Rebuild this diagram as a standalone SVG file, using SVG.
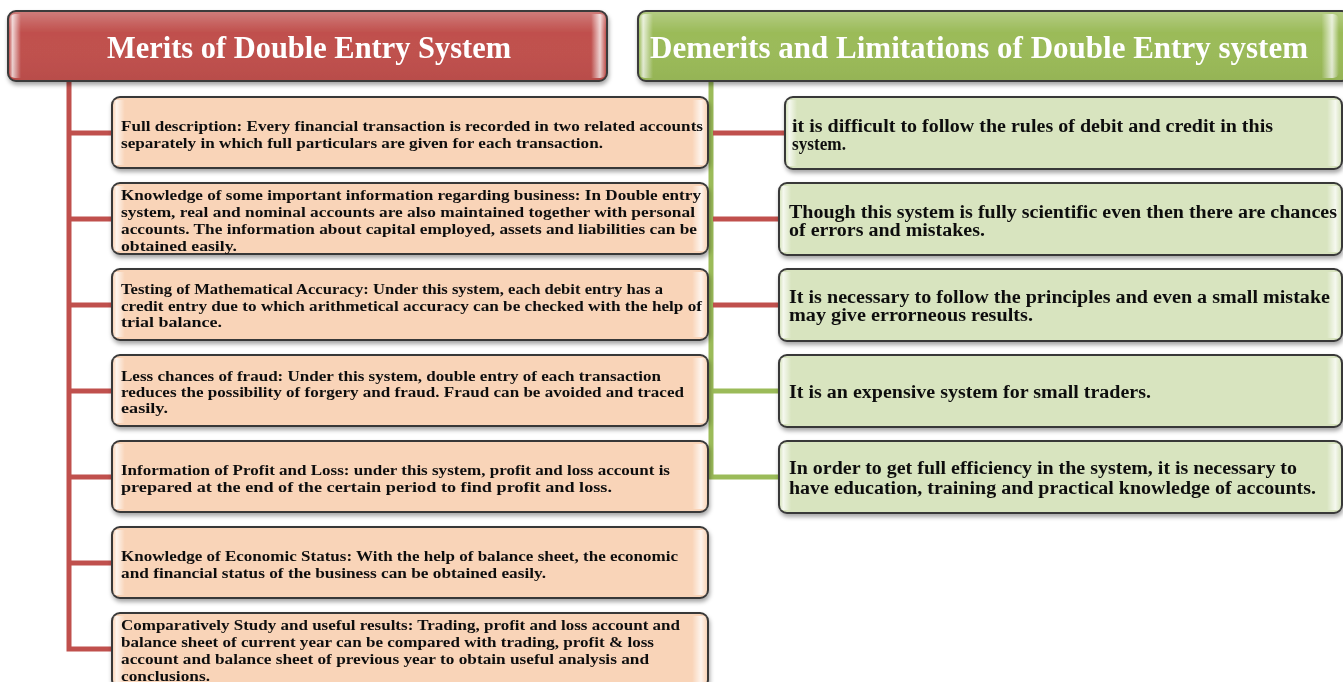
<svg xmlns="http://www.w3.org/2000/svg" width="1343" height="682" viewBox="0 0 1343 682">
<defs>
<filter id="sh" x="-5%" y="-10%" width="110%" height="130%">
<feDropShadow dx="1" dy="3" stdDeviation="2" flood-color="#000" flood-opacity="0.35"/>
</filter>
<linearGradient id="gloss" x1="0" y1="0" x2="1" y2="0">
<stop offset="0" stop-color="#fff" stop-opacity="0"/>
<stop offset="0.006" stop-color="#fff" stop-opacity="0.75"/>
<stop offset="0.02" stop-color="#fff" stop-opacity="0"/>
<stop offset="0.975" stop-color="#fff" stop-opacity="0"/>
<stop offset="0.99" stop-color="#fff" stop-opacity="0.75"/>
<stop offset="1" stop-color="#fff" stop-opacity="0"/>
</linearGradient>
<linearGradient id="topg" x1="0" y1="0" x2="0" y2="1">
<stop offset="0" stop-color="#fff" stop-opacity="0.25"/>
<stop offset="0.3" stop-color="#fff" stop-opacity="0"/>
<stop offset="1" stop-color="#000" stop-opacity="0.04"/>
</linearGradient>
</defs>
<style>
.hd{stroke:#3a3a3a;stroke-width:2}
.red{fill:#C0504D}
.grn{fill:#9BBB59}
.lb{fill:#F9D4B8;stroke:#383838;stroke-width:2}
.rb{fill:#D8E4BF;stroke:#383838;stroke-width:2}
.gl{fill:url(#gloss);stroke:none}
.tg{fill:url(#topg);stroke:none}
.ht{font-family:"Liberation Serif",serif;font-weight:bold;font-size:31px;fill:#fff}
.lt{font-family:"Liberation Serif",serif;font-weight:bold;font-size:15px;fill:#111}
.rt{font-family:"Liberation Serif",serif;font-weight:bold;font-size:18px;fill:#111}
.cr{stroke:#C0504D;stroke-width:5;fill:none}
.cg{stroke:#9BBB59;stroke-width:5;fill:none}
</style>
<rect width="1343" height="682" fill="#fff"/>

<g id="connectors">
<path class="cr" d="M69 80 V649 H112"/>
<path class="cr" d="M69 133 H112 M69 219 H112 M69 305 H112 M69 391 H112 M69 477 H112 M69 563 H112"/>
<path class="cg" d="M711 80 V477 H779"/>
<path class="cg" d="M711 391 H779"/>
<path class="cr" d="M713 133 H785 M713 219 H779 M713 305 H779"/>
</g>

<g id="header-merits" filter="url(#sh)">
<rect class="hd red" x="8" y="11" width="599" height="70" rx="8"/>
<rect class="gl" x="9" y="14" width="597" height="64" rx="6"/>
<rect class="tg" x="9" y="12" width="597" height="68" rx="7"/>
<text class="ht" x="107" y="58" textLength="404" lengthAdjust="spacingAndGlyphs">Merits of Double Entry System</text>
</g>

<g id="header-demerits" filter="url(#sh)">
<rect class="hd grn" x="638" y="11" width="712" height="70" rx="8"/>
<rect class="gl" x="639" y="14" width="700" height="64" rx="6"/>
<rect class="tg" x="639" y="12" width="710" height="68" rx="7"/>
<text class="ht" x="650" y="58" textLength="658" lengthAdjust="spacingAndGlyphs">Demerits and Limitations of Double Entry system</text>
</g>

<g id="merit1" filter="url(#sh)">
<rect class="lb" x="112" y="97" width="596" height="71" rx="8"/>
<rect class="gl" x="113" y="100" width="594" height="65"/>
<text class="lt" x="121" y="131" textLength="582" lengthAdjust="spacingAndGlyphs">Full description: Every financial transaction is recorded in two related accounts</text>
<text class="lt" x="121" y="148" textLength="482" lengthAdjust="spacingAndGlyphs">separately in which full particulars are given for each transaction.</text>
</g>

<g id="merit2" filter="url(#sh)">
<rect class="lb" x="112" y="183" width="596" height="71" rx="8"/>
<rect class="gl" x="113" y="186" width="594" height="65"/>
<text class="lt" x="121" y="200" textLength="580" lengthAdjust="spacingAndGlyphs">Knowledge of some important information regarding business: In Double entry</text>
<text class="lt" x="121" y="217" textLength="574" lengthAdjust="spacingAndGlyphs">system, real and nominal accounts are also maintained together with personal</text>
<text class="lt" x="121" y="234" textLength="576" lengthAdjust="spacingAndGlyphs">accounts. The information about capital employed, assets and liabilities can be</text>
<text class="lt" x="121" y="251" textLength="116" lengthAdjust="spacingAndGlyphs">obtained easily.</text>
</g>

<g id="merit3" filter="url(#sh)">
<rect class="lb" x="112" y="269" width="596" height="71" rx="8"/>
<rect class="gl" x="113" y="272" width="594" height="65"/>
<text class="lt" x="121" y="294" textLength="542" lengthAdjust="spacingAndGlyphs">Testing of Mathematical Accuracy: Under this system, each debit entry has a</text>
<text class="lt" x="121" y="311" textLength="581" lengthAdjust="spacingAndGlyphs">credit entry due to which arithmetical accuracy can be checked with the help of</text>
<text class="lt" x="121" y="327" textLength="101" lengthAdjust="spacingAndGlyphs">trial balance.</text>
</g>

<g id="merit4" filter="url(#sh)">
<rect class="lb" x="112" y="355" width="596" height="71" rx="8"/>
<rect class="gl" x="113" y="358" width="594" height="65"/>
<text class="lt" x="121" y="381" textLength="540" lengthAdjust="spacingAndGlyphs">Less chances of fraud: Under this system, double entry of each transaction</text>
<text class="lt" x="121" y="397" textLength="563" lengthAdjust="spacingAndGlyphs">reduces the possibility of forgery and fraud. Fraud can be avoided and traced</text>
<text class="lt" x="121" y="413" textLength="47" lengthAdjust="spacingAndGlyphs">easily.</text>
</g>

<g id="merit5" filter="url(#sh)">
<rect class="lb" x="112" y="441" width="596" height="71" rx="8"/>
<rect class="gl" x="113" y="444" width="594" height="65"/>
<text class="lt" x="121" y="475" textLength="549" lengthAdjust="spacingAndGlyphs">Information of Profit and Loss: under this system, profit and loss account is</text>
<text class="lt" x="121" y="492" textLength="491" lengthAdjust="spacingAndGlyphs">prepared at the end of the certain period to find profit and loss.</text>
</g>

<g id="merit6" filter="url(#sh)">
<rect class="lb" x="112" y="527" width="596" height="71" rx="8"/>
<rect class="gl" x="113" y="530" width="594" height="65"/>
<text class="lt" x="121" y="561" textLength="557" lengthAdjust="spacingAndGlyphs">Knowledge of Economic Status: With the help of balance sheet, the economic</text>
<text class="lt" x="121" y="578" textLength="425" lengthAdjust="spacingAndGlyphs">and financial status of the business can be obtained easily.</text>
</g>

<g id="merit7" filter="url(#sh)">
<rect class="lb" x="112" y="613" width="596" height="75" rx="8"/>
<rect class="gl" x="113" y="616" width="594" height="69"/>
<text class="lt" x="121" y="630" textLength="559" lengthAdjust="spacingAndGlyphs">Comparatively Study and useful results: Trading, profit and loss account and</text>
<text class="lt" x="121" y="647" textLength="533" lengthAdjust="spacingAndGlyphs">balance sheet of current year can be compared with trading, profit &amp; loss</text>
<text class="lt" x="121" y="664" textLength="528" lengthAdjust="spacingAndGlyphs">account and balance sheet of previous year to obtain useful analysis and</text>
<text class="lt" x="121" y="681" textLength="89" lengthAdjust="spacingAndGlyphs">conclusions.</text>
</g>

<g id="demerit1" filter="url(#sh)">
<rect class="rb" x="785" y="97" width="557" height="72" rx="8"/>
<rect class="gl" x="786" y="100" width="555" height="66"/>
<text class="rt" x="792" y="132" textLength="481" lengthAdjust="spacingAndGlyphs">it is difficult to follow the rules of debit and credit in this</text>
<text class="rt" x="792" y="150" textLength="54" lengthAdjust="spacingAndGlyphs">system.</text>
</g>

<g id="demerit2" filter="url(#sh)">
<rect class="rb" x="779" y="183" width="563" height="72" rx="8"/>
<rect class="gl" x="780" y="186" width="561" height="66"/>
<text class="rt" x="789" y="218" textLength="548" lengthAdjust="spacingAndGlyphs">Though this system is fully scientific even then there are chances</text>
<text class="rt" x="789" y="236" textLength="196" lengthAdjust="spacingAndGlyphs">of errors and mistakes.</text>
</g>

<g id="demerit3" filter="url(#sh)">
<rect class="rb" x="779" y="269" width="563" height="72" rx="8"/>
<rect class="gl" x="780" y="272" width="561" height="66"/>
<text class="rt" x="789" y="303" textLength="541" lengthAdjust="spacingAndGlyphs">It is necessary to follow the principles and even a small mistake</text>
<text class="rt" x="789" y="321" textLength="244" lengthAdjust="spacingAndGlyphs">may give errorneous results.</text>
</g>

<g id="demerit4" filter="url(#sh)">
<rect class="rb" x="779" y="355" width="563" height="72" rx="8"/>
<rect class="gl" x="780" y="358" width="561" height="66"/>
<text class="rt" x="789" y="398" textLength="362" lengthAdjust="spacingAndGlyphs">It is an expensive system for small traders.</text>
</g>

<g id="demerit5" filter="url(#sh)">
<rect class="rb" x="779" y="441" width="563" height="72" rx="8"/>
<rect class="gl" x="780" y="444" width="561" height="66"/>
<text class="rt" x="789" y="474" textLength="508" lengthAdjust="spacingAndGlyphs">In order to get full efficiency in the system, it is necessary to</text>
<text class="rt" x="789" y="494" textLength="527" lengthAdjust="spacingAndGlyphs">have education, training and practical knowledge of accounts.</text>
</g>
</svg>
